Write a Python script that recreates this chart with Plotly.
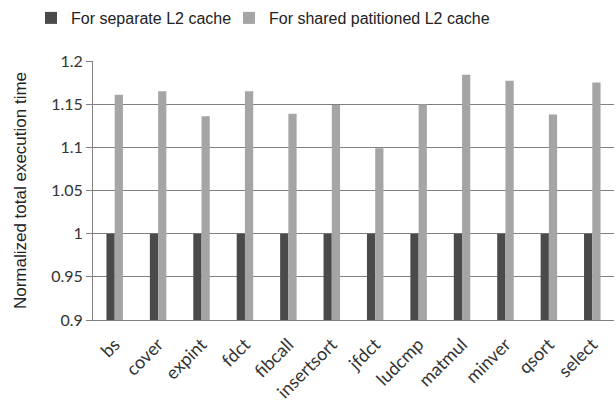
import plotly.graph_objects as go

categories = ["bs", "cover", "expint", "fdct", "fibcall", "insertsort", "jfdct",
              "ludcmp", "matmul", "minver", "qsort", "select"]
separate = [1, 1, 1, 1, 1, 1, 1, 1, 1, 1, 1, 1]
shared = [1.161, 1.165, 1.136, 1.165, 1.139, 1.149, 1.099, 1.150, 1.184, 1.177, 1.138, 1.175]
y_ticks = [0.9, 0.95, 1, 1.05, 1.1, 1.15, 1.2]
y_tick_labels = ["0.9", "0.95", "1", "1.05", "1.1", "1.15", "1.2"]

fig = go.Figure()
fig.add_trace(go.Bar(name="For separate L2 cache", x=categories, y=separate,
                     marker=dict(color="#4a4a4a", line=dict(width=0)), legend="legend"))
fig.add_trace(go.Bar(name="For shared patitioned L2 cache", x=categories, y=shared,
                     marker=dict(color="#a5a5a5", line=dict(width=0)), legend="legend2"))

plot_left, plot_w, plot_top, plot_h = 93, 521, 60, 260
leg_font = dict(size=16, family="Liberation Sans, Arial", color="#222")

fig.update_layout(
    width=616, height=407,
    margin=dict(l=plot_left, r=616 - plot_left - plot_w, t=plot_top, b=407 - plot_top - plot_h),
    paper_bgcolor="white", plot_bgcolor="white",
    barmode="group", bargap=0.62, bargroupgap=0.0,
    font=dict(family="Liberation Sans, Arial", size=15, color="#222"),
    legend=dict(orientation="h", x=(31 - plot_left) / plot_w, xanchor="left",
                y=1 + (plot_top - 18) / plot_h, yanchor="middle",
                font=leg_font, itemwidth=30, bgcolor="rgba(0,0,0,0)"),
    legend2=dict(orientation="h", x=(229 - plot_left) / plot_w, xanchor="left",
                 y=1 + (plot_top - 18) / plot_h, yanchor="middle",
                 font=leg_font, itemwidth=30, bgcolor="rgba(0,0,0,0)"),
    showlegend=True,
)
fig.update_yaxes(
    range=[0.9, 1.2], tickvals=y_ticks, ticktext=y_tick_labels,
    showgrid=True, gridcolor="#808080", gridwidth=1,
    showline=True, linecolor="#808080", linewidth=1,
    ticks="outside", ticklen=6, tickcolor="#808080",
    tickfont=dict(family="Lato, Open Sans", size=16, color="#333"),
    title=dict(text="Normalized total execution time", standoff=20,
               font=dict(family="Liberation Sans, Arial", size=17)),
    zeroline=False, automargin=False,
)
fig.update_xaxes(
    showline=True, linecolor="#808080", linewidth=1,
    tickangle=-45, tickfont=dict(family="Lato, Open Sans", size=18, color="#333"),
    ticks="", showgrid=False, automargin=False, ticklabelstandoff=6,
)

fig.write_html("out.html", config={"displayModeBar": False},
               post_script="document.body.style.margin='0';document.body.style.padding='0';")
